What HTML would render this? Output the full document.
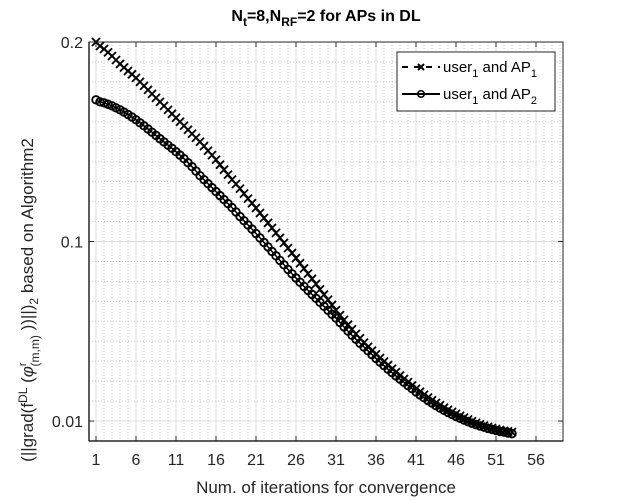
<!DOCTYPE html>
<html><head><meta charset="utf-8">
<style>
html,body{margin:0;padding:0;background:#fff;}
svg{display:block;font-family:"Liberation Sans",Arial,sans-serif;}
</style></head>
<body>
<svg id="chart" width="626" height="500" viewBox="0 0 626 500" xmlns="http://www.w3.org/2000/svg">
  <rect x="0" y="0" width="626" height="500" fill="#fff"/>
  <rect x="89" y="42" width="474" height="399" fill="#fff"/>
  <g id="grid"></g>
  <g id="series"></g>
  <g id="axes"></g>
  <text x="326" y="21" text-anchor="middle" font-size="16" font-weight="bold">N<tspan font-size="12" dy="5">t</tspan><tspan dy="-5">=8,N</tspan><tspan font-size="12" dy="5">RF</tspan><tspan dy="-5">=2 for APs in DL</tspan></text>
  <text x="326" y="493" text-anchor="middle" font-size="17" fill="#262626">Num. of iterations for convergence</text>
  <text transform="translate(33,300) rotate(-90)" text-anchor="middle" font-size="17" fill="#262626">(||grad(f<tspan font-size="12" dy="-6">DL</tspan><tspan dy="6"> (</tspan><tspan font-style="italic">φ</tspan><tspan font-size="11" dy="-7">r</tspan><tspan font-size="12" dx="-4" dy="13">(m,m)</tspan><tspan dy="-6"> ))||)</tspan><tspan font-size="12" dy="5">2</tspan><tspan dy="-5"> based on Algorithm2</tspan></text>
  <g id="legend">
    <rect x="397" y="52" width="158" height="59" fill="#fff" stroke="#262626" stroke-width="1"/>
    <g>
      <line x1="402" y1="67" x2="440" y2="67" stroke="#000" stroke-width="2" stroke-dasharray="6,6"/>
      <path d="M418,64 l6,6 M424,64 l-6,6" stroke="#000" stroke-width="2"/>
      <text x="443" y="72" font-size="15">user<tspan font-size="11" dy="5">1</tspan><tspan dy="-5"> and AP</tspan><tspan font-size="11" dy="5">1</tspan></text>
    </g>
    <g>
      <line x1="402" y1="94" x2="440" y2="94" stroke="#000" stroke-width="2"/>
      <circle cx="421" cy="94" r="3.3" fill="none" stroke="#000" stroke-width="1.5"/>
      <text x="443" y="99" font-size="15">user<tspan font-size="11" dy="5">1</tspan><tspan dy="-5"> and AP</tspan><tspan font-size="11" dy="5">2</tspan></text>
    </g>
  </g>
</svg>
<script>
const iterations = [1,1.5,2,2.5,3,3.5,4,4.5,5,5.5,6,6.5,7,7.5,8,8.5,9,9.5,10,10.5,11,11.5,12,12.5,13,13.5,14,14.5,15,15.5,16,16.5,17,17.5,18,18.5,19,19.5,20,20.5,21,21.5,22,22.5,23,23.5,24,24.5,25,25.5,26,26.5,27,27.5,28,28.5,29,29.5,30,30.5,31,31.5,32,32.5,33,33.5,34,34.5,35,35.5,36,36.5,37,37.5,38,38.5,39,39.5,40,40.5,41,41.5,42,42.5,43,43.5,44,44.5,45,45.5,46,46.5,47,47.5,48,48.5,49,49.5,50,50.5,51,51.5,52,52.5,53];
const ap1Values = [.200,.198,.1965,.1948,.193,.191,.189,.1872,.1855,.1838,.182,.180,.178,.176,.174,.172,.170,.168,.166,.164,.162,.160,.158,.156,.154,.152,.150,.1478,.1455,.1433,.141,.1385,.136,.1335,.131,.1288,.1265,.124,.1215,.1192,.1168,.1143,.1118,.1093,.1068,.1043,.1018,.0993,.0967,.0942,.0917,.0891,.0865,.0839,.0813,.0787,.076,.0734,.0708,.0682,.0656,.0631,.0607,.0583,.056,.0537,.0515,.0493,.0472,.0453,.0435,.0416,.0398,.038,.0362,.0345,.0328,.0311,.0295,.0278,.0262,.0247,.0232,.0218,.0204,.0191,.0179,.0167,.0156,.0146,.0136,.0126,.0117,.0108,.0099,.0091,.0084,.0077,.0071,.0065,.006,.0055,.0051,.0048,.0045];
const ap2Values = [.171,.170,.1695,.1688,.168,.167,.166,.1649,.1637,.1624,.161,.1595,.158,.1564,.1548,.1532,.1515,.1499,.1483,.1467,.145,.1433,.1415,.1395,.1375,.1353,.133,.131,.129,.127,.125,.123,.121,.119,.117,.1148,.1125,.1104,.1083,.1062,.104,.1018,.0995,.0973,.095,.0928,.0905,.0883,.086,.0838,.0817,.0796,.0775,.0755,.0735,.0715,.0695,.0675,.0655,.0635,.0616,.0594,.0572,.0551,.053,.051,.049,.0471,.0452,.0433,.0414,.0396,.0378,.036,.0343,.0326,.031,.0294,.0278,.0262,.0246,.0231,.0217,.0203,.019,.0177,.0165,.0154,.0143,.0133,.0123,.0114,.0105,.0097,.0089,.0082,.0075,.0069,.0063,.0058,.0053,.0048,.0044,.004,.0037];
const xTickValues = [1,6,11,16,21,26,31,36,41,46,51,56];
const yTickValues = [0.01,0.1,0.2];
const yTickLabels = ["0.01","0.1","0.2"];

const NS = "http://www.w3.org/2000/svg";
const L=89,R=563,T=42,B=441;
const xMin=0.125, xMax=1+(R-96)/8;
const yMin=0, yMax=0.2;
function sx(v){return L+(v-xMin)/(xMax-xMin)*(R-L);}
function sy(v){return B-(v-yMin)/(yMax-yMin)*(B-T);}
function mk(tag,attrs,parent){const e=document.createElementNS(NS,tag);for(const k in attrs)e.setAttribute(k,attrs[k]);parent.appendChild(e);return e;}

const grid=document.getElementById('grid');
for(let v=1; v<=59; v++){
  if((v-1)%5===0) continue;
  const ln=mk('line',{x1:sx(v),x2:sx(v),y1:T,y2:B,stroke:'#c8c8c8','stroke-width':1,'stroke-dasharray':'1,2'},grid);
  
  
}
for(let k=1;k<=19;k++){
  const v=k*0.01;
  if(Math.abs(v-0.01)<1e-9||Math.abs(v-0.1)<1e-9) continue;
  const ln=mk('line',{x1:L,x2:R,y1:sy(v),y2:sy(v),stroke:'#c8c8c8','stroke-width':1,'stroke-dasharray':'1,2'},grid);
  
  
}
xTickValues.forEach(v=>{
  const ln=mk('line',{x1:sx(v),x2:sx(v),y1:T,y2:B,stroke:'#dcdcdc','stroke-width':1},grid);
  
  
});
yTickValues.forEach(v=>{
  const ln=mk('line',{x1:L,x2:R,y1:sy(v),y2:sy(v),stroke:'#dcdcdc','stroke-width':1},grid);
  
  
});

const ser=document.getElementById('series');
function pts(vals){return iterations.map((x,i)=>sx(x).toFixed(1)+','+sy(vals[i]).toFixed(1)).join(' ');}
const l1=mk('polyline',{points:pts(ap1Values),fill:'none',stroke:'#000','stroke-width':1.5,'stroke-dasharray':'6,4'},ser);


const l2=mk('polyline',{points:pts(ap2Values),fill:'none',stroke:'#000','stroke-width':1.5},ser);


iterations.forEach((x,i)=>{
  const cx=sx(x), cy=sy(ap2Values[i]);
  const c=mk('circle',{cx:cx,cy:cy,r:3.8,fill:'none',stroke:'#000','stroke-width':1.8},ser);
  
  
});
iterations.forEach((x,i)=>{
  const cx=sx(x), cy=sy(ap1Values[i]);
  const p=mk('path',{d:`M${cx-4},${cy-4} L${cx+4},${cy+4} M${cx+4},${cy-4} L${cx-4},${cy+4}`,stroke:'#000','stroke-width':1.8},ser);
  
  
});

const ax=document.getElementById('axes');
const box=mk('rect',{x:L,y:T,width:R-L,height:B-T,fill:'none',stroke:'#262626','stroke-width':1},ax);


const xb=mk('line',{x1:L,x2:R,y1:B,y2:B,stroke:'#262626','stroke-width':1.5},ax);


const yb=mk('line',{x1:L,x2:L,y1:T,y2:B,stroke:'#262626','stroke-width':1.5},ax);


xTickValues.forEach(v=>{
  const t=mk('line',{x1:sx(v),x2:sx(v),y1:B,y2:B-5,stroke:'#262626'},ax);
  
  
  const t2=mk('line',{x1:sx(v),x2:sx(v),y1:T,y2:T+5,stroke:'#262626'},ax);
  
  
  const tx=mk('text',{x:sx(v),y:B+24,'text-anchor':'middle','font-size':16,fill:'#262626'},ax);
  tx.textContent=String(v);
  
  
});
yTickValues.forEach((v,i)=>{
  const t=mk('line',{x1:L,x2:L+5,y1:sy(v),y2:sy(v),stroke:'#262626'},ax);
  
  
  const t2=mk('line',{x1:R,x2:R-5,y1:sy(v),y2:sy(v),stroke:'#262626'},ax);
  
  
  const tx=mk('text',{x:L-6,y:sy(v)+6,'text-anchor':'end','font-size':16,fill:'#262626'},ax);
  tx.textContent=yTickLabels[i];
  
  
});
</script>
</body></html>
